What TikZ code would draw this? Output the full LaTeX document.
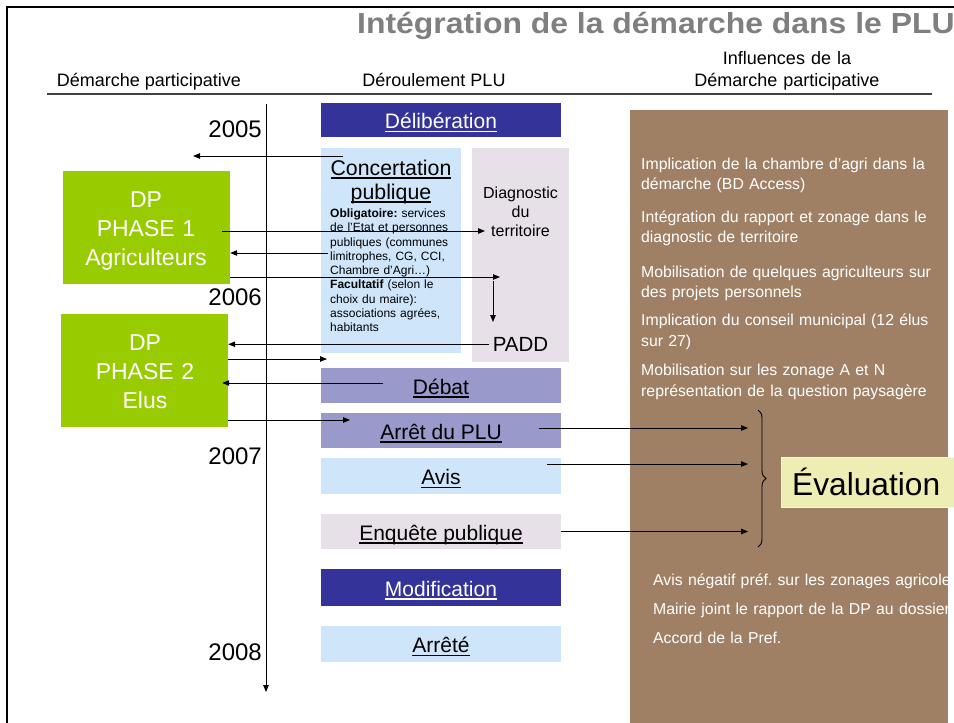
\documentclass[tikz,border=0pt]{standalone}
\usepackage{fontspec}
\usepackage{graphicx}
\setmainfont{Liberation Sans}
\usetikzlibrary{arrows.meta,decorations.pathreplacing,calc}
\definecolor{dblue}{HTML}{333399}
\definecolor{mpurple}{HTML}{9999CC}
\definecolor{lblue}{HTML}{CFE6FA}
\definecolor{lpink}{HTML}{E7E0E8}
\definecolor{dpgreen}{HTML}{99CC00}
\definecolor{brownp}{HTML}{9F8065}
\definecolor{evalyel}{HTML}{EEEEB4}
\definecolor{titlegray}{HTML}{7F7F7F}
\newcommand\fsz[2]{\fontsize{#1}{#2}\selectfont}
\newcommand\ulx[1]{\leavevmode\begingroup\setbox0\hbox{#1}\rlap{\rule[-3.6pt]{\wd0}{1.4pt}}\box0\endgroup}
\frenchspacing
\begin{document}
\begin{tikzpicture}[x=1pt,y=-1pt,
  arr/.style={draw=black, line width=0.9pt, -{Triangle[length=7pt,width=5.5pt]}},
  stepbox/.style={inner sep=0pt, minimum width=240pt, text height=17pt, text depth=0pt, font=\fsz{21}{25}},
  dpbox/.style={fill=dpgreen, inner sep=0pt, minimum width=167pt, minimum height=113pt},
  dptext/.style={anchor=base, inner sep=0pt, text width=167pt, align=center, text=white, font=\fsz{23}{29}},
  wtext/.style={text=white, inner sep=0pt, anchor=base west, text width=305pt, align=left, font=\fsz{15.8}{20.5}},
  hdr/.style={inner sep=0pt, font=\fsz{18}{22}},
  year/.style={inner sep=0pt, anchor=base east, font=\fsz{24}{28}},
]
\useasboundingbox (0,0) rectangle (954,723);
\fill[white] (0,0) rectangle (954,723);

% frame
\draw[line width=2.5pt] (954,7) -- (7,7) -- (7,723);

% title and headers
\node[anchor=base west, inner sep=0pt, text=titlegray, font=\fsz{29}{34}\bfseries] (title) at (357,33.5)
  {\scalebox{1.1}[1]{Intégration de la démarche dans le PLU}};
\node[hdr, anchor=base] (h1) at (149,86.4) {Démarche participative};
\node[hdr, anchor=base] (h2) at (434,86.4) {Déroulement PLU};
\node[hdr, anchor=base, align=center, text width=260pt] (h3) at (787,64.4) {Influences de la\\Démarche participative};
\draw[line width=1.2pt, black!75] (47,94) -- (932,94);

% brown panel
\fill[brownp] (630,110) rectangle (948,723);

% PLU steps
\node[stepbox, fill=dblue, text=white, minimum height=34pt] (delib) at (441,120) {\ulx{Délibération}};
\node[fill=lblue, inner sep=0pt, minimum width=140pt, minimum height=205pt] (concert) at (391,250.5) {};
\node[fill=lpink, inner sep=0pt, minimum width=97pt, minimum height=214pt] (diag) at (520.5,255) {};
\node[stepbox, fill=mpurple, minimum height=35pt] (debat) at (441,385.5) {\ulx{Débat}};
\node[stepbox, fill=mpurple, minimum height=35pt] (arret) at (441,430.5) {\ulx{Arrêt du PLU}};
\node[stepbox, fill=lblue, minimum height=36pt] (avis) at (441,476) {\ulx{Avis}};
\node[stepbox, fill=lpink, minimum height=35pt] (enquete) at (441,531.5) {\ulx{Enquête publique}};
\node[stepbox, fill=dblue, text=white, minimum height=37pt] (modif) at (441,587.5) {\ulx{Modification}};
\node[stepbox, fill=lblue, minimum height=36pt] (arrete) at (441,644) {\ulx{Arrêté}};

\node[anchor=base, inner sep=0pt, text width=140pt, align=center, font=\fsz{21.3}{24}] (concT) at (391,175)
  {\ulx{Concertation}\\\ulx{publique}};
\node[anchor=base west, inner sep=0pt, text width=135pt, align=left, font=\fsz{12}{14.25}] (concB) at (330,217.6)
  {\textbf{Obligatoire:} services\\de l'Etat et personnes\\publiques (communes\\limitrophes, CG, CCI,\\Chambre d'Agri…)\\\textbf{Facultatif} (selon le\\choix du maire):\\associations agrées,\\habitants};
\node[anchor=base, inner sep=0pt, text width=97pt, align=center, font=\fsz{16}{19}] (diagT) at (520.5,198.7)
  {Diagnostic\\du\\territoire};
\node[anchor=base, inner sep=0pt, font=\fsz{20.5}{24}] (padd) at (520.5,351.3) {PADD};

% DP boxes
\node[dpbox] (dp1) at (146.5,227) {};
\node[dpbox] (dp2) at (144.5,370.5) {};
\node[dptext] (dp1T) at (146,207.5) {DP\\PHASE 1\\Agriculteurs};
\node[dptext] (dp2T) at (145,350) {DP\\PHASE 2\\Elus};

% timeline
\coordinate (tltop) at (266,104);
\coordinate (tlbot) at (266,692);
\draw[arr] (tltop) -- (tlbot);
\node[year] (y5) at (262,137.6) {2005};
\node[year] (y6) at (262,305.6) {2006};
\node[year] (y7) at (262,464.6) {2007};
\node[year] (y8) at (262,660.6) {2008};

% influences
\node[wtext] (i1) at (641,169.4) {Implication de la chambre d'agri dans la\\démarche (BD Access)};
\node[wtext] (i2) at (641,222.3) {Intégration du rapport et zonage dans le\\diagnostic de territoire};
\node[wtext] (i3) at (641,277.3) {Mobilisation de quelques agriculteurs sur\\des projets personnels};
\node[wtext] (i4) at (641,325.6) {Implication du conseil municipal (12 élus\\sur 27)};
\node[wtext] (i5) at (641,375.6) {Mobilisation sur les zonage A et N\\représentation de la question paysagère};
\node[wtext, text width=360pt, font=\fsz{15.8}{29}] (o1) at (653,585.5)
  {Avis négatif préf. sur les zonages agricole\\Mairie joint le rapport de la DP au dossier.\\Accord de la Pref.};

% evaluation
\node[fill=evalyel, draw=white!60!evalyel, line width=1pt, inner sep=0pt, minimum width=180pt, minimum height=50pt, anchor=north west] (eval) at (781,457) {};
\node[anchor=base west, inner sep=0pt, font=\fsz{31.7}{36}] (evalT) at (792,495) {Évaluation};

% brace
\coordinate (brT) at (758,410);
\coordinate (brB) at (758,547);
\coordinate (brL) at (748,410);
\draw[decorate, decoration={brace, amplitude=8pt}, line width=0.9pt] (brT) -- (brB);

% connectors
\coordinate (a1s) at (343,156);
\coordinate (a1e) at (193,156);
\draw[arr] (a1s) -- (a1e);
\coordinate (a2s) at (222,231);
\coordinate (a2e) at (485,231);
\draw[arr] (a2s) -- (a2e);
\coordinate (a3s) at (328,253);
\draw[arr] (a3s) -- (a3s -| dp1.east);
\coordinate (a4e) at (500,277);
\draw[arr] (a4e -| dp1.east) -- (a4e);
\coordinate (a5s) at (493,281);
\coordinate (a5e) at (493,322);
\draw[arr] (a5s) -- (a5e);
\draw[arr] ([xshift=-4pt]padd.west) -- (padd.west -| dp2.east);
\coordinate (a7e) at (327,359);
\draw[arr] (a7e -| dp2.east) -- (a7e);
\coordinate (a8s) at (383,383);
\draw[arr] (a8s) -- ([xshift=-6pt]a8s -| dp2.east);
\coordinate (a9e) at (350,420);
\draw[arr] (a9e -| dp2.east) -- (a9e);
\coordinate (a10s) at (539,428);
\draw[arr] (a10s) -- (a10s -| brL);
\coordinate (a11s) at (547,464);
\draw[arr] (a11s) -- (a11s -| brL);
\draw[arr] (enquete.east) -- (enquete.east -| brL);
\end{tikzpicture}
\end{document}
